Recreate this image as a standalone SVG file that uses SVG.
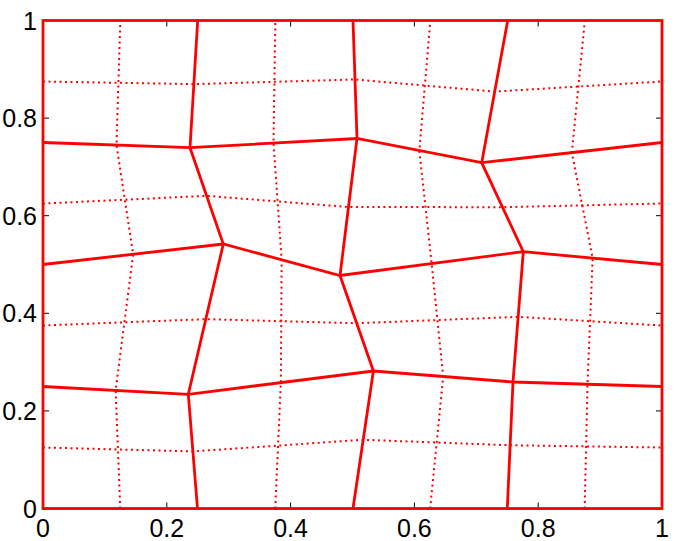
<svg xmlns="http://www.w3.org/2000/svg" width="675" height="541" viewBox="0 0 675 541">
<style>
.solid{fill:none;stroke:#ff0000;stroke-width:2.8;stroke-linejoin:miter}
.dot{fill:none;stroke:#ff0000;stroke-width:2;stroke-dasharray:2 3.5}
.tick{stroke:#000;stroke-width:1}
.lbl{font-family:"Liberation Sans",Arial,sans-serif;font-size:25px;fill:#000}
</style>
<rect width="675" height="541" fill="#fff"/>
<g id="axes">
<rect x="43" y="20.5" width="619" height="488.5" fill="none" stroke="#000" stroke-width="1"/>
<path class="tick" d="M166.8,508.5v-6M290.6,508.5v-6M414.4,508.5v-6M538.2,508.5v-6M166.8,20.5v6M290.6,20.5v6M414.4,20.5v6M538.2,20.5v6M43,410.9h6M43,313.3h6M43,215.7h6M43,118.1h6M662,410.9h-6M662,313.3h-6M662,215.7h-6M662,118.1h-6"/>
</g>
<g id="connectors">
<g id="dual-mesh">
<polyline class="dot" points="120.25,508.5 117.95,449.45 115.65,390.4 124.4,322.3 133.15,254.25 124.8,199.7 116.5,145.1 118.4,82.8 120.35,20.5"/>
<polyline class="dot" points="275.25,508.5 278.05,445.6 280.85,382.65 281.25,321.2 281.65,259.75 277.6,201.4 273.5,143.1 274.4,81.8 275.35,20.5"/>
<polyline class="dot" points="430.15,508.5 436.7,442.5 443.2,376.5 437.4,320.05 431.65,263.6 425.5,207.1 419.35,150.6 424.85,85.55 430.35,20.5"/>
<polyline class="dot" points="584.65,508.5 586.1,446.4 587.5,384.25 590.1,321.2 592.65,258.1 582.25,205.35 571.85,152.6 578.35,86.55 584.85,20.5"/>
<polyline class="dot" points="43,447.5 117.95,449.45 192.9,451.4 278.05,445.6 363.2,439.75 436.7,442.5 510.15,445.25 586.1,446.4 662,447.5"/>
<polyline class="dot" points="43,325.5 124.4,322.3 205.8,319.15 281.25,321.2 356.7,323.25 437.4,320.05 518.15,316.85 590.1,321.2 662,325.5"/>
<polyline class="dot" points="43,203.5 124.8,199.7 206.65,195.85 277.6,201.4 348.5,207 425.5,207.1 502.5,207.2 582.25,205.35 662,203.5"/>
<polyline class="dot" points="43,81.5 118.4,82.8 193.85,84.1 274.4,81.8 355,79.5 424.85,85.55 494.7,91.6 578.35,86.55 662,81.5"/>
</g>
<g id="primal-mesh">
<rect class="solid" x="43" y="20.5" width="619" height="488"/>
<polyline class="solid" points="197.5,508.5 188.3,394.3 223.3,244 190,147.7 197.7,20.5"/>
<polyline class="solid" points="353,508.5 373.4,371 340,275.5 357,138.5 353,20.5"/>
<polyline class="solid" points="507.3,508.5 513,382 523.3,251.7 481.7,162.7 507.7,20.5"/>
<polyline class="solid" points="43,386.5 188.3,394.3 373.4,371 513,382 662,386.5"/>
<polyline class="solid" points="43,264.5 223.3,244 340,275.5 523.3,251.7 662,264.5"/>
<polyline class="solid" points="43,142.5 190,147.7 357,138.5 481.7,162.7 662,142.5"/>
</g>
</g>
<g id="labels" class="lbl">
<text x="43" y="537" text-anchor="middle">0</text>
<text x="166.8" y="537" text-anchor="middle">0.2</text>
<text x="290.6" y="537" text-anchor="middle">0.4</text>
<text x="414.4" y="537" text-anchor="middle">0.6</text>
<text x="538.2" y="537" text-anchor="middle">0.8</text>
<text x="662" y="537" text-anchor="middle">1</text>
<text x="37" y="517.5" text-anchor="end">0</text>
<text x="37" y="419.9" text-anchor="end">0.2</text>
<text x="37" y="322.3" text-anchor="end">0.4</text>
<text x="37" y="224.7" text-anchor="end">0.6</text>
<text x="37" y="127.1" text-anchor="end">0.8</text>
<text x="37" y="29.5" text-anchor="end">1</text>
</g>
</svg>
